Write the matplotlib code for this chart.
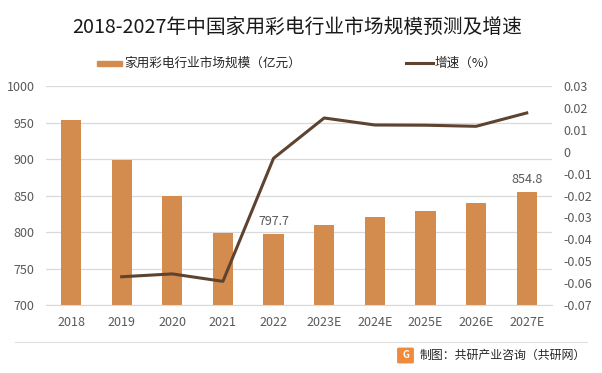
import numpy as np
import matplotlib.pyplot as plt
from matplotlib.patches import FancyBboxPatch

plt.rcParams['font.family'] = ['Noto Sans CJK SC', 'DejaVu Sans']

years = ['2018', '2019', '2020', '2021', '2022', '2023E', '2024E', '2025E', '2026E', '2027E']
market_size = [953.5, 899.0, 849.5, 799.0, 797.7, 810.0, 820.0, 829.0, 840.0, 854.8]
growth = [np.nan, -0.0571, -0.0558, -0.0592, -0.0030, 0.0154, 0.0122, 0.0121, 0.0116, 0.0177]
labelled = {4: '797.7', 9: '854.8'}

bar_color = '#D48B4E'
line_color = '#5E4330'
text_color = '#595959'

fig = plt.figure(figsize=(6.02, 3.73), dpi=100)
ax = fig.add_axes([0.0759, 0.1823, 0.8411, 0.5871])
ax2 = ax.twinx()

x = np.arange(len(years))
ax.bar(x, market_size, width=0.4, color=bar_color, zorder=2)
for i, txt in labelled.items():
    ax.text(x[i], market_size[i] + 8, txt, ha='center', va='bottom', fontsize=9, color=text_color)

ax2.plot(x, growth, color=line_color, linewidth=2.2, zorder=3)

ax.set_xlim(-0.5, len(years) - 0.5)
ax.set_ylim(700, 1000)
ax.set_yticks(np.arange(700, 1001, 50))
ax2.set_ylim(-0.07, 0.03)
ax2.set_yticks(np.round(np.arange(-0.07, 0.031, 0.01), 2))
ax2.set_yticklabels(['-0.07', '-0.06', '-0.05', '-0.04', '-0.03', '-0.02', '-0.01', '0', '0.01', '0.02', '0.03'])
ax.set_xticks(x)
ax.set_xticklabels(years)

ax.grid(axis='y', color='#D9D9D9', linewidth=0.9, zorder=0)
ax.set_axisbelow(True)
for a in (ax, ax2):
    for s in a.spines.values():
        s.set_visible(False)
    a.tick_params(length=0, labelsize=9, colors=text_color)
ax.spines['bottom'].set_visible(True)
ax.spines['bottom'].set_color('#D9D9D9')
ax.tick_params(axis='x', pad=8)
ax.tick_params(axis='y', pad=8)
ax2.tick_params(axis='y', pad=8)

fig.text(297.5 / 602, 1 - 28.5 / 373, '2018-2027年中国家用彩电行业市场规模预测及增速', ha='center', va='center',
         fontsize=14.2, color='#1a1a1a')

# legend
fig.patches.append(plt.Rectangle((97 / 602, 1 - 65.7 / 373), 25 / 602, 4.7 / 373, transform=fig.transFigure,
                                 color=bar_color))
fig.text(124 / 602, 1 - 63.3 / 373, '家用彩电行业市场规模（亿元）', ha='left', va='center', fontsize=9.1, color='#262626')
fig.lines.append(plt.Line2D([406 / 602, 433 / 602], [1 - 63.3 / 373] * 2, transform=fig.transFigure,
                            color=line_color, linewidth=2.2))
fig.text(434.5 / 602, 1 - 63.3 / 373, '增速（%）', ha='left', va='center', fontsize=9.1, color='#262626')

# footer
fig.lines.append(plt.Line2D([15 / 602, 587 / 602], [1 - 341.5 / 373] * 2, transform=fig.transFigure,
                            color='#E0E0E0', linewidth=0.8))
fig.patches.append(FancyBboxPatch((399 / 602, 1 - 362 / 373), 13 / 602, 13 / 373, transform=fig.transFigure,
                                  boxstyle='round,pad=0.002', color='#F08A3C'))
fig.text(405.5 / 602, 1 - 355.5 / 373, 'G', ha='center', va='center', fontsize=7, color='white', fontweight='bold')
fig.text(420 / 602, 1 - 355 / 373, '制图：共研产业咨询（共研网）', ha='left', va='center', fontsize=8.6, color='#262626')

fig.savefig('out.png', dpi=100, facecolor='white')
